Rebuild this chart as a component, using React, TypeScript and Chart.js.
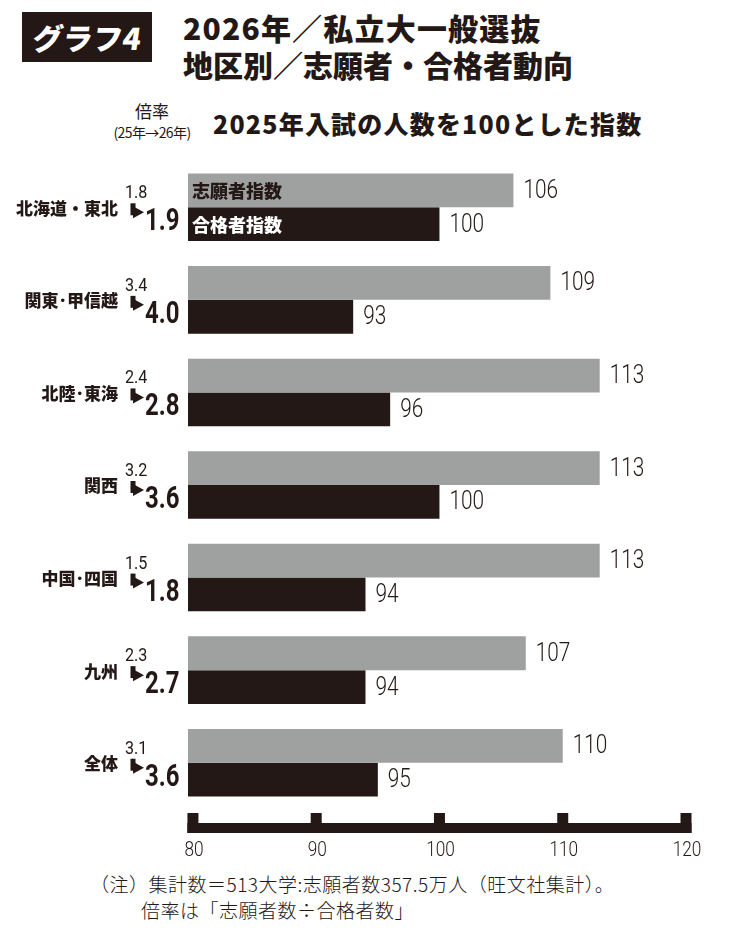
import React, { useEffect, useRef } from "react";
import { Chart, registerables, type ChartConfiguration, type Plugin } from "chart.js";

Chart.register(...registerables);

const regions = ["北海道・東北", "関東･甲信越", "北陸･東海", "関西", "中国･四国", "九州", "全体"];
const applicantIndex = [106, 109, 113, 113, 113, 107, 110];
const passerIndex = [100, 93, 96, 100, 94, 94, 95];
const ratio2025 = ["1.8", "3.4", "2.4", "3.2", "1.5", "2.3", "3.1"];
const ratio2026 = ["1.9", "4.0", "2.8", "3.6", "1.8", "2.7", "3.6"];
const seriesNames = ["志願者指数", "合格者指数"];
const xTicks = [80, 90, 100, 110, 120];

const INK = "#231815";
const GRAY = "#9fa0a0";
const JP = "'Noto Sans CJK JP', sans-serif";
const NUM = "Roboto, sans-serif";

// 細長い数字（DIN風）を横に縮めて描く
function narrowText(
  ctx: CanvasRenderingContext2D,
  text: string,
  x: number,
  y: number,
  sx: number,
  align: CanvasTextAlign
) {
  ctx.save();
  ctx.translate(x, y);
  ctx.scale(sx, 1);
  ctx.textAlign = align;
  ctx.fillText(text, 0, 0);
  ctx.restore();
}

const decorPlugin: Plugin<"bar"> = {
  id: "decor",
  afterDatasetsDraw(chart) {
    const { ctx, chartArea, scales } = chart;
    const xScale = scales.x;
    const yScale = scales.y;

    ctx.save();
    ctx.fillStyle = INK;
    ctx.textBaseline = "middle";

    // 数値ラベル
    [0, 1].forEach((d) => {
      const meta = chart.getDatasetMeta(d);
      meta.data.forEach((bar: any, i: number) => {
        const values = d === 0 ? applicantIndex : passerIndex;
        ctx.fillStyle = INK;
        ctx.font = `300 26px ${NUM}`;
        narrowText(ctx, String(values[i]), bar.x + 10, bar.y + 1, 0.8, "left");
      });
    });

    // バー内の系列名（先頭カテゴリのみ）
    ctx.font = `900 18px ${JP}`;
    ctx.textAlign = "left";
    const g = chart.getDatasetMeta(0).data[0] as any;
    const b = chart.getDatasetMeta(1).data[0] as any;
    ctx.fillStyle = INK;
    ctx.fillText(seriesNames[0], chartArea.left + 4, g.y + 1);
    ctx.fillStyle = "#ffffff";
    ctx.fillText(seriesNames[1], chartArea.left + 4, b.y + 1);

    // 左側の地区名と倍率
    regions.forEach((name, i) => {
      const c = yScale.getPixelForValue(i);
      ctx.fillStyle = INK;
      ctx.textBaseline = "middle";
      ctx.font = `900 17px ${JP}`;
      ctx.textAlign = "right";
      ctx.fillText(name, 118, c + 1);

      ctx.textBaseline = "alphabetic";
      ctx.font = `19px ${NUM}`;
      narrowText(ctx, ratio2025[i], 125, c - 9, 0.85, "left");

      // 矢印
      ctx.fillRect(130.5, c - 4, 5, 12);
      ctx.beginPath();
      ctx.moveTo(133, c - 1);
      ctx.lineTo(144, c + 5);
      ctx.lineTo(133, c + 11);
      ctx.closePath();
      ctx.fill();

      ctx.font = `bold 32px ${NUM}`;
      narrowText(ctx, ratio2026[i], 145, c + 23, 0.75, "left");
    });

    // 下の軸
    const axTop = chartArea.bottom + 14;
    const first = xScale.getPixelForValue(xTicks[0]);
    const last = xScale.getPixelForValue(xTicks[xTicks.length - 1]);
    ctx.fillStyle = INK;
    ctx.fillRect(first - 5.5, axTop, last - first + 11, 10);
    ctx.textBaseline = "middle";
    ctx.font = `300 21px ${NUM}`;
    xTicks.forEach((t) => {
      const px = xScale.getPixelForValue(t);
      ctx.fillRect(px - 5.5, axTop - 10, 11, 20);
      narrowText(ctx, String(t), px + 1, axTop + 28, 0.82, "center");
    });

    ctx.restore();
  },
};

function BarChart() {
  const chartRef = useRef<HTMLCanvasElement | null>(null);
  const chartInstance = useRef<Chart | null>(null);

  useEffect(() => {
    if (!chartRef.current) return;
    if (chartInstance.current) {
      chartInstance.current.destroy();
    }

    const config: ChartConfiguration<"bar"> = {
      type: "bar",
      data: {
        labels: regions,
        datasets: [
          {
            label: seriesNames[0],
            data: applicantIndex,
            backgroundColor: GRAY,
            borderWidth: 0,
            categoryPercentage: 0.73,
            barPercentage: 1.0,
          },
          {
            label: seriesNames[1],
            data: passerIndex,
            backgroundColor: INK,
            borderWidth: 0,
            categoryPercentage: 0.73,
            barPercentage: 1.0,
          },
        ],
      },
      options: {
        indexAxis: "y",
        responsive: false,
        animation: false,
        layout: { padding: { left: 188, right: 64, top: 11, bottom: 61 } },
        scales: {
          x: { display: false, min: 79.6, max: 120 },
          y: { display: false },
        },
        plugins: {
          legend: { display: false },
          tooltip: { enabled: false },
        },
      },
      plugins: [decorPlugin],
    };

    chartInstance.current = new Chart(chartRef.current, config);

    return () => {
      if (chartInstance.current) {
        chartInstance.current.destroy();
        chartInstance.current = null;
      }
    };
  }, []);

  return (
    <canvas
      ref={chartRef}
      width={750}
      height={720}
      style={{ position: "absolute", left: 0, top: 150, width: 750, height: 720 }}
    />
  );
}

export default function App() {
  useEffect(() => {
    document.body.style.margin = "0";
  }, []);

  return (
    <div
      style={{
        position: "relative",
        width: 750,
        height: 940,
        background: "#ffffff",
        color: INK,
        fontFamily: JP,
        overflow: "hidden",
      }}
    >
      <div
        style={{
          position: "absolute",
          left: 22,
          top: 12,
          width: 130,
          height: 50,
          background: INK,
          color: "#ffffff",
          fontWeight: 900,
          fontSize: 30,
          lineHeight: "50px",
          textAlign: "center",
        }}
      >
        <span style={{ display: "inline-block", transform: "skewX(-8deg)" }}>グラフ4</span>
      </div>
      <div
        style={{
          position: "absolute",
          left: 183,
          top: 9,
          fontWeight: 900,
          fontSize: 30,
          lineHeight: "37px",
          whiteSpace: "nowrap",
        }}
      >
        <div style={{ letterSpacing: 1.2 }}>2026年／私立大一般選抜</div>
        <div>地区別／志願者・合格者動向</div>
      </div>
      <div
        style={{
          position: "absolute",
          left: 92,
          width: 120,
          top: 101,
          textAlign: "center",
          fontSize: 17,
          lineHeight: "20px",
        }}
      >
        倍率
      </div>
      <div
        style={{
          position: "absolute",
          left: 92,
          width: 120,
          top: 123,
          textAlign: "center",
          fontSize: 14,
          lineHeight: "18px",
          letterSpacing: -0.6,
          whiteSpace: "nowrap",
        }}
      >
        (25年→26年)
      </div>
      <div
        style={{
          position: "absolute",
          left: 213,
          top: 106,
          fontWeight: 900,
          fontSize: 25,
          lineHeight: "34px",
          letterSpacing: 1.2,
          whiteSpace: "nowrap",
        }}
      >
        2025年入試の人数を100とした指数
      </div>
      <BarChart />
      <div
        style={{
          position: "absolute",
          left: 90,
          top: 871,
          fontSize: 19,
          fontWeight: 300,
          lineHeight: "26px",
          letterSpacing: 0.5,
          whiteSpace: "nowrap",
        }}
      >
        <div>（注）集計数＝513大学:志願者数357.5万人（旺文社集計）。</div>
        <div style={{ paddingLeft: 51 }}>倍率は「志願者数÷合格者数」</div>
      </div>
    </div>
  );
}
